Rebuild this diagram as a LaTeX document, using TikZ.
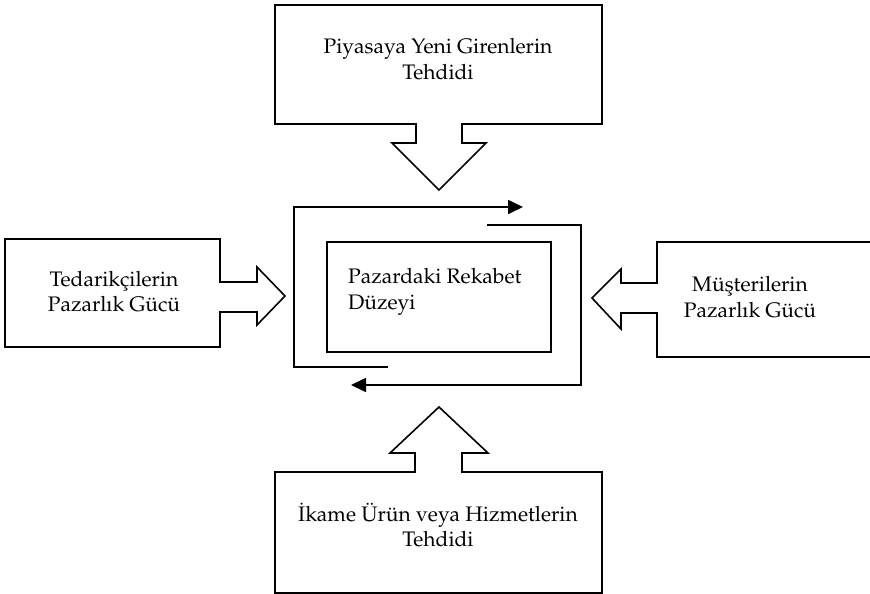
\documentclass[tikz,border=0pt]{standalone}
\usepackage[T1]{fontenc}
\renewcommand{\rmdefault}{ppl}
\usetikzlibrary{arrows.meta}
\begin{document}
\begin{tikzpicture}[x=1pt,y=-1pt,
  outline/.style={draw=black,line width=1.6pt,line join=miter},
  label/.style={font=\fontsize{21}{25.5}\selectfont,align=center,inner sep=0pt},
  loop/.style={draw=black,line width=1.7pt,-{Triangle[length=15pt,width=14pt]}}]
\useasboundingbox (0,0) rectangle (870,594);
\fill[white] (0,0) rectangle (870,594);

% threat of new entrants, arrow pointing down
\draw[outline] (275,5) -- (602,5) -- (602,124) -- (462,124) -- (462,143) -- (486,143)
  -- (439,190) -- (392,143) -- (416,143) -- (416,124) -- (275,124) -- cycle;
\node[label] (entrants) at (438,59) {Piyasaya Yeni Girenlerin\\Tehdidi};

% bargaining power of suppliers, arrow pointing right
\draw[outline] (5,239) -- (220,239) -- (220,282) -- (257,282) -- (257,267) -- (285,296)
  -- (257,325) -- (257,312) -- (220,312) -- (220,347) -- (5,347) -- cycle;
\node[label] (suppliers) at (114,291.5) {Tedarik\c{c}ilerin\\Pazarl\i k G\"uc\"u};

% bargaining power of buyers, arrow pointing left
\draw[outline] (871,242) -- (657,242) -- (657,283) -- (621,283) -- (621,269) -- (592,298)
  -- (621,329) -- (621,313) -- (657,313) -- (657,357) -- (871,357);
\node[label] (buyers) at (750,297) {M\"u\c{s}terilerin\\Pazarl\i k G\"uc\"u};

% threat of substitutes, arrow pointing up
\draw[outline] (275,472) -- (415,472) -- (415,453) -- (390,453) -- (439,407) -- (488,453)
  -- (462,453) -- (462,472) -- (602,472) -- (602,593) -- (275,593) -- cycle;
\node[label] (substitutes) at (438,525) {\.Ikame \"Ur\"un veya Hizmetlerin\\Tehdidi};

% rivalry in the market
\draw[outline] (327,242) rectangle (551,352);
\node[label,align=left,anchor=west] (rivalry) at (348,292) {Pazardaki Rekabet\\D\"uzeyi};

% circulating arrows around the rivalry box
\coordinate (a1) at (388,367);
\coordinate (a2) at (294,367);
\coordinate (a3) at (294,207);
\coordinate (a4) at (523,207);
\coordinate (b1) at (487,225);
\coordinate (b2) at (581,225);
\coordinate (b3) at (581,385);
\coordinate (b4) at (351,385);
\draw[loop] (a1) -- (a2) -- (a3) -- (a4);
\draw[loop] (b1) -- (b2) -- (b3) -- (b4);
\end{tikzpicture}
\end{document}
